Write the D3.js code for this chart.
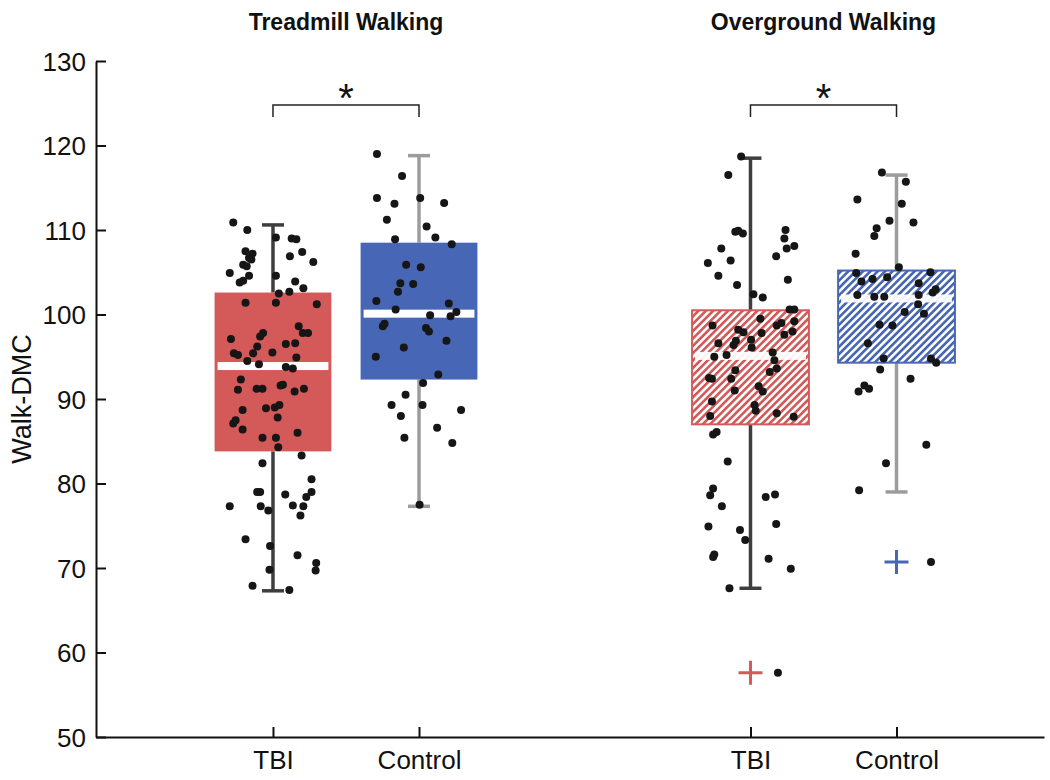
<!DOCTYPE html>
<html>
<head>
<meta charset="utf-8">
<script src="https://cdn.jsdelivr.net/npm/d3@7"></script>
<style>
  html, body { margin: 0; padding: 0; background: #fff; }
  svg { display: block; font-family: "Liberation Sans", Arial, Helvetica, sans-serif; }
</style>
</head>
<body>
<svg id="chart" width="1050" height="780"></svg>
<script>
// ---------------- DATA ----------------
const conditions = ["Treadmill Walking", "Overground Walking"];
const groups = ["TBI", "Control"];
const yTicks = [50, 60, 70, 80, 90, 100, 110, 120, 130];
const yLabel = "Walk-DMC";

// box statistics per box: [Treadmill TBI, Treadmill Control, Overground TBI, Overground Control]
const boxQ1 = [83.8, 92.3, 87.0, 94.3];
const boxMedian = [93.9, 100.1, 95.1, 101.9];
const boxQ3 = [102.6, 108.5, 100.5, 105.2];
const whiskerLow = [67.3, 77.3, 67.6, 79.0];
const whiskerHigh = [110.6, 118.8, 118.5, 116.5];
const outliers = [[], [], [57.6], [70.7]];

// individual points (values) and their horizontal jitter (-1..1 of half box width)
const treadTBI = [110.9,110.0,109.1,109.0,108.9,107.5,107.2,106.7,106.5,106.9,107.4,106.2,105.9,105.7,104.9,104.6,104.6,103.8,104.0,103.9,103.1,102.5,102.7,101.4,101.4,101.2,98.6,97.8,97.8,97.8,97.4,97.1,96.5,96.6,96.2,95.4,95.2,95.4,95.5,94.9,94.5,94.1,93.8,93.6,92.3,91.1,91.2,91.2,91.6,91.7,90.9,91.2,88.7,88.9,89.0,89.3,87.5,87.1,86.4,87.8,85.4,85.4,86.0,84.3,83.3,82.4,80.5,79.0,79.0,78.7,79.0,78.4,77.3,77.3,76.8,77.4,77.3,76.2,73.4,72.6,71.5,70.6,69.7,69.8,67.9,67.4];
const treadTBIJitter = [-0.68,-0.44,0.05,0.32,0.40,-0.47,-0.35,-0.41,-0.37,0.29,0.50,0.69,-0.51,-0.45,-0.74,-0.41,0.05,-0.57,-0.51,0.38,0.52,0.10,0.28,-0.47,0.05,0.75,0.44,0.51,0.60,-0.17,-0.22,-0.72,0.22,0.38,-0.27,-0.67,-0.60,-0.34,-0.01,0.40,-0.44,-0.24,0.22,0.34,-0.55,-0.60,-0.28,-0.18,0.13,0.17,0.37,0.53,-0.52,-0.12,0.03,0.11,-0.64,-0.68,-0.52,0.08,-0.18,0.05,0.42,0.09,0.49,-0.18,0.66,-0.27,-0.22,0.21,0.66,0.57,-0.74,-0.21,-0.08,0.34,0.52,0.47,-0.47,-0.05,0.42,0.74,0.73,-0.06,-0.35,0.28];

const treadCtl = [119.0,116.4,113.8,113.1,113.8,113.2,111.2,110.4,108.9,109.1,108.3,105.9,105.6,103.7,103.6,102.7,101.6,101.3,100.6,99.9,99.8,100.3,98.9,98.6,98.4,98.0,96.9,96.1,95.0,92.9,91.9,90.5,89.3,89.3,88.7,88.0,86.6,85.4,84.8,77.5];
const treadCtlJitter = [-0.72,-0.29,-0.72,-0.42,0.02,0.43,-0.55,0.13,-0.41,0.28,0.56,-0.22,0.03,-0.32,-0.10,-0.36,-0.73,0.51,-0.40,0.19,0.54,0.64,-0.59,-0.62,0.12,0.17,0.47,-0.26,-0.74,0.33,0.07,-0.23,-0.47,0.06,0.72,-0.31,0.31,-0.25,0.57,0.01];

const overTBI = [118.7,116.5,109.8,109.9,109.6,110.0,109.0,107.8,108.1,107.8,106.9,106.1,106.4,104.6,104.1,103.5,102.4,102.0,100.6,100.6,98.7,99.5,98.7,99.0,99.2,98.2,97.9,97.8,98.0,97.6,96.6,96.9,96.4,97.0,96.1,95.0,95.2,95.5,94.6,93.6,93.2,93.4,92.5,92.4,92.4,91.0,91.5,90.9,89.7,89.3,88.6,88.0,88.3,87.9,86.1,85.8,82.6,79.4,78.6,77.3,78.4,78.7,74.9,74.5,73.3,75.2,71.6,71.1,69.9,67.6,57.6,71.3];
const overTBIJitter = [-0.16,-0.38,-0.26,-0.21,-0.13,0.60,0.58,0.62,0.75,-0.50,0.44,-0.73,-0.34,-0.55,0.64,-0.23,0.05,0.21,0.67,0.75,-0.65,0.17,0.45,0.53,0.75,-0.21,-0.12,0.19,0.72,0.58,-0.55,-0.25,-0.29,0.01,0.02,-0.62,-0.41,0.38,0.41,0.45,0.33,-0.26,-0.71,-0.66,-0.33,-0.27,0.14,0.21,-0.66,0.07,0.09,-0.69,0.45,0.74,-0.58,-0.64,-0.39,-0.64,-0.69,-0.49,0.26,0.42,-0.72,-0.18,-0.09,0.44,-0.62,0.31,0.69,-0.36,0.47,-0.64];

const overCtl = [116.8,115.7,113.6,113.1,111.1,110.9,110.2,109.3,107.2,105.6,104.9,105.0,103.9,104.2,104.4,103.7,102.3,102.1,102.1,102.3,102.6,103.0,101.2,100.3,100.1,98.8,98.7,96.6,94.8,94.8,94.3,93.5,92.4,91.6,90.9,91.2,84.6,82.4,79.2,70.7];
const overCtlJitter = [-0.25,0.16,-0.67,0.09,-0.12,0.29,-0.34,-0.38,-0.70,0.04,-0.69,0.58,-0.60,-0.41,-0.16,0.38,-0.67,-0.38,-0.21,0.38,0.62,0.67,0.37,0.14,0.47,-0.29,-0.07,-0.49,-0.22,0.59,0.68,-0.28,0.24,-0.55,-0.65,-0.47,0.51,-0.18,-0.64,0.59];

// ---------------- LAYOUT / STYLE ----------------
const W = 1050, H = 780;
const axisLeftX = 96, axisRightX = 1044, axisBottomY = 737, axisTopY = 61;
const boxSlots = [1, 2, 4.27, 5.27];          // slot index of each box on the x axis
const boxHalf = 0.4;                            // half box width in slot units
const fills = ["solid", "solid", "hatch", "hatch"];
const colorTBI = "#D45A5A", colorCtl = "#4866B6";
const boxColors = [colorTBI, colorCtl, colorTBI, colorCtl];
const whiskerColors = ["#3E3E3E", "#9C9C9C", "#3E3E3E", "#9C9C9C"];
const pointSets = [
  {v: treadTBI, j: treadTBIJitter},
  {v: treadCtl, j: treadCtlJitter},
  {v: overTBI, j: overTBIJitter},
  {v: overCtl, j: overCtlJitter}
];

const svg = d3.select("#chart");
const x = d3.scaleLinear().domain([-0.212, 6.28]).range([axisLeftX, axisRightX]);
const y = d3.scaleLinear().domain([50, 130]).range([axisBottomY, axisTopY]);

// hatch patterns
const defs = svg.append("defs");
function hatch(id, color) {
  const p = defs.append("pattern")
    .attr("id", id).attr("patternUnits", "userSpaceOnUse")
    .attr("width", 5.2).attr("height", 5.2)
    .attr("patternTransform", "rotate(45)");
  p.append("rect").attr("width", 5.2).attr("height", 5.2).attr("fill", "#fff");
  p.append("line").attr("x1", 1.3).attr("y1", 0).attr("x2", 1.3).attr("y2", 5.2)
    .attr("stroke", color).attr("stroke-width", 2.6);
}
hatch("hatchRed", colorTBI);
hatch("hatchBlue", colorCtl);

// axes
const yAxis = d3.axisLeft(y).tickValues(yTicks).tickSize(-10).tickSizeOuter(0).tickPadding(10);
const gy = svg.append("g").attr("transform", `translate(${axisLeftX},0)`).call(yAxis);
gy.selectAll("text").attr("font-size", 26).attr("fill", "#111").attr("dy", "0.36em");
gy.select(".domain").attr("stroke", "#111").attr("stroke-width", 2);
gy.selectAll(".tick line").attr("stroke", "#111").attr("stroke-width", 2);

const xLabels = [groups[0], groups[1], groups[0], groups[1]];
const xAxis = d3.axisBottom(x).tickValues(boxSlots).tickSize(-10).tickSizeOuter(0).tickPadding(14)
  .tickFormat((d, i) => xLabels[i]);
const gx = svg.append("g").attr("transform", `translate(0,${axisBottomY})`).call(xAxis);
gx.selectAll("text").attr("font-size", 26).attr("fill", "#111");
gx.select(".domain").attr("stroke", "#111").attr("stroke-width", 2);
gx.selectAll(".tick line").attr("stroke", "#111").attr("stroke-width", 2);

// y label
svg.append("text")
  .attr("transform", `translate(31,${y(90)}) rotate(-90)`)
  .attr("text-anchor", "middle")
  .attr("font-size", 27).attr("fill", "#111")
  .text(yLabel);

// titles
conditions.forEach((c, i) => {
  const cx = x((boxSlots[2 * i] + boxSlots[2 * i + 1]) / 2);
  svg.append("text").attr("x", cx).attr("y", 30)
    .attr("text-anchor", "middle").attr("font-size", 23).attr("font-weight", "bold")
    .attr("fill", "#111").text(c);
});

// boxes
const capHalf = 11;
boxSlots.forEach((s, i) => {
  const cx = x(s);
  const g = svg.append("g");
  const wc = whiskerColors[i];
  // whiskers
  g.append("line").attr("x1", cx).attr("x2", cx).attr("y1", y(whiskerHigh[i])).attr("y2", y(boxQ3[i]))
    .attr("stroke", wc).attr("stroke-width", 3.5);
  g.append("line").attr("x1", cx).attr("x2", cx).attr("y1", y(boxQ1[i])).attr("y2", y(whiskerLow[i]))
    .attr("stroke", wc).attr("stroke-width", 3.5);
  g.append("line").attr("x1", cx - capHalf).attr("x2", cx + capHalf).attr("y1", y(whiskerHigh[i])).attr("y2", y(whiskerHigh[i]))
    .attr("stroke", wc).attr("stroke-width", 3.5);
  g.append("line").attr("x1", cx - capHalf).attr("x2", cx + capHalf).attr("y1", y(whiskerLow[i])).attr("y2", y(whiskerLow[i]))
    .attr("stroke", wc).attr("stroke-width", 3.5);
  // box
  const x0 = x(s - boxHalf), x1 = x(s + boxHalf);
  const isHatch = fills[i] === "hatch";
  g.append("rect").attr("x", x0).attr("y", y(boxQ3[i]))
    .attr("width", x1 - x0).attr("height", y(boxQ1[i]) - y(boxQ3[i]))
    .attr("fill", isHatch ? (i === 2 ? "url(#hatchRed)" : "url(#hatchBlue)") : boxColors[i])
    .attr("stroke", boxColors[i]).attr("stroke-width", isHatch ? 2 : 0);
  // median
  g.append("rect").attr("x", x0 + 3).attr("y", y(boxMedian[i]) - 4)
    .attr("width", x1 - x0 - 6).attr("height", 8).attr("fill", "#fff")
    .attr("opacity", isHatch ? 0.92 : 1);
  // outliers
  outliers[i].forEach(o => {
    const oy = y(o);
    g.append("path").attr("d", `M${cx - 12},${oy}H${cx + 12}M${cx},${oy - 12}V${oy + 12}`)
      .attr("stroke", boxColors[i]).attr("stroke-width", 3).attr("fill", "none");
  });
});

// points
pointSets.forEach((ps, i) => {
  svg.append("g").selectAll("circle").data(ps.v).join("circle")
    .attr("cx", (d, k) => x(boxSlots[i] + ps.j[k] * boxHalf))
    .attr("cy", d => y(d))
    .attr("r", 4)
    .attr("fill", "#161616");
});

// significance brackets
conditions.forEach((c, i) => {
  const xa = x(boxSlots[2 * i]), xb = x(boxSlots[2 * i + 1]);
  const by = 105;
  svg.append("path").attr("d", `M${xa},${by + 12}V${by}H${xb}V${by + 12}`)
    .attr("fill", "none").attr("stroke", "#222").attr("stroke-width", 1.5);
  svg.append("text").attr("x", (xa + xb) / 2).attr("y", by + 7)
    .attr("text-anchor", "middle").attr("font-size", 40).attr("fill", "#111").text("*");
});
</script>
</body>
</html>
